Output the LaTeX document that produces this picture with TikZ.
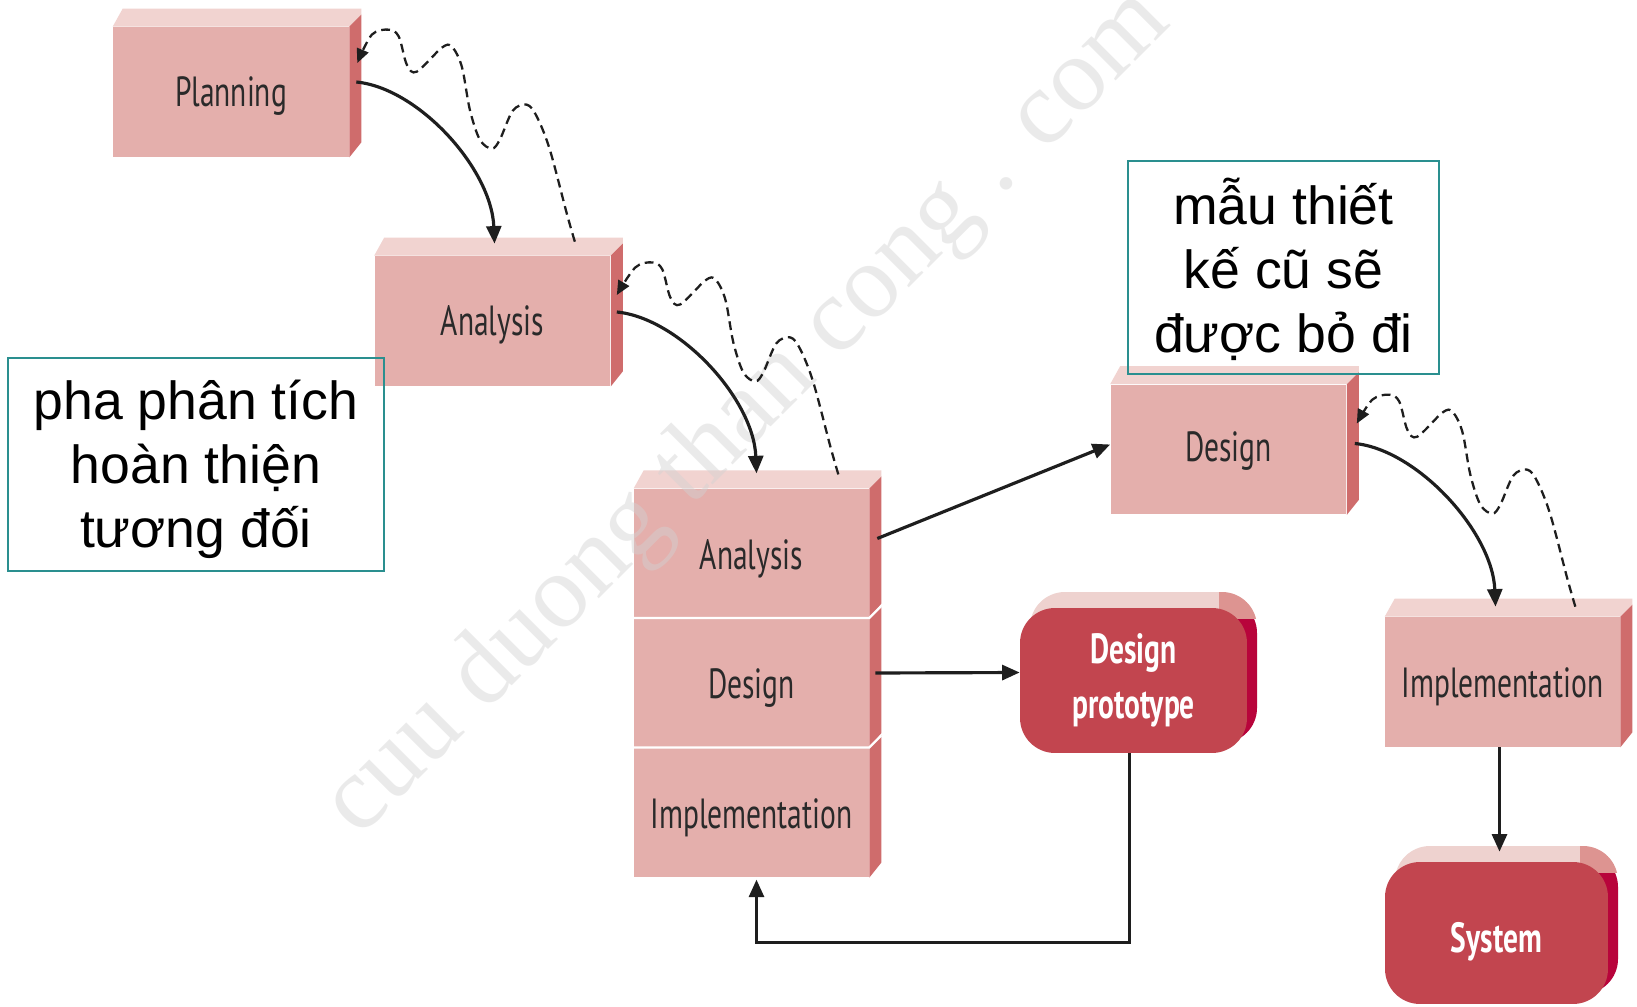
\documentclass[tikz,border=0pt]{standalone}
\usepackage{fontspec}
\setmainfont{Liberation Sans}
\newfontfamily\boxfont[FakeStretch=0.70]{PT Sans}
\newfontfamily\markfont{Liberation Serif}
\usetikzlibrary{arrows.meta,calc}

\definecolor{boxfront}{HTML}{E4AFAC}
\definecolor{boxtop}{HTML}{F1D3D0}
\definecolor{boxside}{HTML}{CF6C6C}
\definecolor{boxtext}{HTML}{2A2A2A}
\definecolor{rfront}{HTML}{C2454F}
\definecolor{rtop}{HTML}{EED2CF}
\definecolor{rcorner}{HTML}{DD9491}
\definecolor{rside}{HTML}{B8043B}
\definecolor{noteline}{HTML}{2A8F8F}
\definecolor{arrowc}{HTML}{1E1E1E}
\definecolor{markc}{HTML}{D2D2D2}

% flat 3D block: front face node, lighter top, darker side
\newcommand\blockfaces[1]{%
  \fill[boxside] (#1.north east) -- ++(12,-12) -- ([shift={(12,-15)}]#1.south east) -- (#1.south east) -- cycle;}
\newcommand\blocktop[1]{%
  \fill[boxtop] (#1.north west) -- ++(10,-18) -- ([shift={(12,-18)}]#1.north east) -- ([shift={(12,-12)}]#1.north east) -- (#1.north east) -- cycle;}

% rounded 3D block behind a front face: #1 left, #2 top, #3 right, #4 bottom of the front face
\newcommand\roundback[4]{%
  \fill[rside, rounded corners=0.7cm] (#1+10,#2-10) rectangle (#3+10,#4-10);
  \begin{scope}
    \clip (#1,#2-30) rectangle (#3-28,#2+12);
    \fill[rtop, rounded corners=0.7cm] (#1+10,#2-16) rectangle (#3+10,#4-16);
  \end{scope}
  \begin{scope}
    \clip (#3-28,#2-30) rectangle (#3+20,#2+10);
    \fill[rcorner, rounded corners=0.7cm] (#1+10,#2-16) rectangle (#3+10,#4-16);
  \end{scope}}

% dashed feedback line drawn back from a later phase to an earlier one
\newcommand\feedback[2]{%
  \draw[wiggly] plot[smooth,tension=0.55] coordinates {(#1)
    ([shift={(-8,-28)}]#1) ([shift={(-25,-92)}]#1) ([shift={(-38,-125)}]#1)
    ([shift={(-48,-137)}]#1) ([shift={(-62,-131)}]#1) ([shift={(-75,-102)}]#1)
    ([shift={(-83,-93)}]#1) ([shift={(-95,-102)}]#1) ([shift={(-105,-132)}]#1)
    ([shift={(-113,-175)}]#1) ([shift={(-123,-195)}]#1) ([shift={(-133,-194)}]#1)
    ([shift={(-158,-170)}]#1) ([shift={(-168,-177)}]#1) ([shift={(-176,-205)}]#1)
    ([shift={(-186,-212)}]#1) ([shift={(-203,-207)}]#1) (#2)};}

\begin{document}
\begin{tikzpicture}[x=0.02cm,y=-0.02cm,
  phasebox/.style={rectangle, fill=boxfront, minimum width=4.72cm, minimum height=2.6cm,
    inner sep=0pt, text=boxtext, text height=18pt, text depth=0pt,
    font=\boxfont\fontsize{24}{26}\selectfont},
  stackbox/.style={phasebox, minimum width=4.7cm, minimum height=2.59cm},
  roundbox/.style={rectangle, rounded corners=0.7cm, fill=rfront, inner sep=0pt,
    text=white, align=center, font=\boxfont\bfseries\fontsize{24}{31}\selectfont},
  note/.style={rectangle, draw=noteline, line width=1.1pt, inner sep=0pt,
    minimum height=4.26cm},
  notetext/.style={align=center, inner sep=0pt, font=\fontsize{30.5}{36.5}\selectfont},
  solidarrow/.style={draw=arrowc, line width=1.8pt, -{Triangle[length=10pt,width=8.5pt]}},
  wiggly/.style={draw=arrowc, line width=1.3pt, dash pattern=on 5pt off 3pt,
    -{Triangle[length=8pt,width=7pt]}},
  watermark/.style={text=markc, text opacity=0.45, font=\markfont\fontsize{60}{60}\selectfont}]

\fill[white] (0,0) rectangle (1637,1007);
\useasboundingbox (0,0) rectangle (1637,1007);

% ---- phase blocks ----
\node[phasebox, text height=16pt] (plan) at (231,92) {Planning};
\blocktop{plan}\blockfaces{plan}

\node[phasebox, text height=16pt] (ana) at (492.5,321) {Analysis};
\blocktop{ana}\blockfaces{ana}

\node[stackbox] (a1) at (751.5,553.5) {Analysis};
\node[stackbox] (d1) at (751.5,683) {Design};
\node[stackbox] (i1) at (751.5,812.5) {Implementation};
\blocktop{a1}\blockfaces{a1}\blockfaces{d1}\blockfaces{i1}
\draw[white, line width=1.3pt] (d1.north west) -- (d1.north east) -- ++(12,-12);
\draw[white, line width=1.3pt] (i1.north west) -- (i1.north east) -- ++(12,-12);

\node[phasebox, text height=14pt] (des) at (1228.5,449.5) {Design};
\blocktop{des}\blockfaces{des}

\node[phasebox, minimum width=4.7cm] (impl) at (1502.5,682) {Implementation};
\blocktop{impl}\blockfaces{impl}

% ---- rounded result blocks ----
\roundback{1020}{608}{1247}{753}
\node[roundbox, minimum width=4.54cm, minimum height=2.9cm] (proto) at (1133.5,680.5) {Design\\prototype};

\roundback{1385}{862}{1608}{1004}
\node[roundbox, minimum width=4.46cm, minimum height=2.84cm, text height=22pt, text depth=0pt] (sys) at (1496.5,933) {System};

% ---- watermark ----
\node[watermark, rotate=45] (wm) at (748,414) {cuu duong than cong . com};

% ---- forward flow ----
\draw[solidarrow] ([shift={(7,-10)}]plan.east) .. controls +(62,6) and +(-3,-75) .. ([shift={(2,-12)}]ana.north);
\draw[solidarrow] ([shift={(6,-9)}]ana.east) .. controls +(62,6) and +(-3,-75) .. ([shift={(5,-15)}]a1.north);
\draw[solidarrow] ([shift={(8,-6)}]des.east) .. controls +(62,6) and +(-3,-75) .. ([shift={(-7,-10)}]impl.north);
\draw[solidarrow] ([shift={(8,-15)}]a1.east) -- ([shift={(0,-5)}]des.west);
\draw[solidarrow] ([shift={(6,-10)}]d1.east) -- ([shift={(0,-8)}]proto.west);
\draw[solidarrow] ([shift={(-4,0)}]proto.south) -- ++(0,189) -| ([shift={(5,2)}]i1.south);
\draw[solidarrow] ([shift={(-3,0)}]impl.south) -- ([shift={(3,-10)}]sys.north);

% ---- feedback lines ----
\coordinate (f1s) at ([shift={(-36,-14)}]ana.north east);
\coordinate (f1e) at ([shift={(8,-29)}]plan.east);
\coordinate (f2s) at ([shift={(-31,-14)}]a1.north east);
\coordinate (f2e) at ([shift={(6,-26)}]ana.east);
\coordinate (f3s) at ([shift={(-45,-10)}]impl.north east);
\coordinate (f3e) at ([shift={(10,-26)}]des.east);
\feedback{f1s}{f1e}
\feedback{f2s}{f2e}
\feedback{f3s}{f3e}

% ---- notes ----
\node[note, minimum width=7.52cm] (n1) at (196,464.5) {};
\node[notetext] (n1t) at ([shift={(0,5)}]n1.center) {pha phân tích\\hoàn thiện\\tương đối};
\node[note, minimum width=6.22cm] (n2) at (1283.5,267.5) {};
\node[notetext] (n2t) at ([shift={(0,2)}]n2.center) {mẫu thiết\\kế cũ sẽ\\được bỏ đi};
\end{tikzpicture}
\end{document}
